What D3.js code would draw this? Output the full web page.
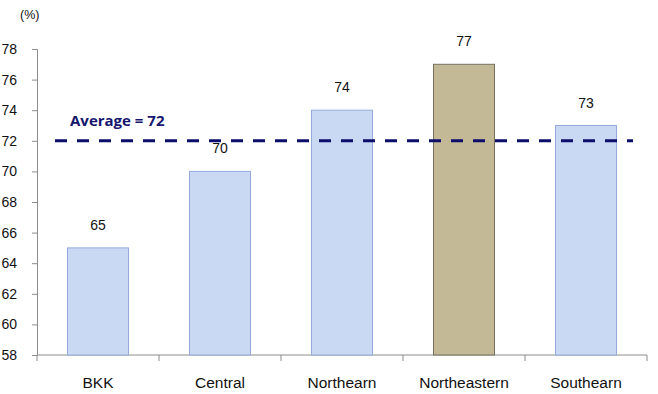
<!DOCTYPE html>
<html>
<head>
<meta charset="utf-8">
<script src="https://cdn.jsdelivr.net/npm/d3@7"></script>
<style>
  body { margin: 0; background: #fff; }
  svg { display: block; font-family: "Liberation Sans", Arial, sans-serif; }
</style>
</head>
<body>
<div id="chart"></div>
<script>
// data
var categories = ["BKK", "Central", "Northearn", "Northeastern", "Southearn"];
var values = [65, 70, 74, 77, 73];
var highlight = "Northeastern";
var average = 72;
var yTicks = [58, 60, 62, 64, 66, 68, 70, 72, 74, 76, 78];

var W = 658, H = 394;
var plotLeft = 37, plotRight = 647, plotTop = 49, plotBottom = 355;

var svg = d3.select("#chart").append("svg")
  .attr("width", W).attr("height", H);

var x = d3.scaleBand()
  .domain(categories)
  .range([plotLeft, plotRight])
  .paddingInner(0.5)
  .paddingOuter(0.25);

var y = d3.scaleLinear()
  .domain([58, 78])
  .range([plotBottom, plotTop]);

// y axis
var yAxis = svg.append("g")
  .attr("transform", "translate(" + plotLeft + ",0)")
  .call(d3.axisLeft(y).tickValues(yTicks).tickSize(5).tickPadding(15));
yAxis.select(".domain").attr("stroke", "#8c8c8c");
yAxis.selectAll(".tick line").attr("stroke", "#8c8c8c");
yAxis.selectAll(".tick text")
  .attr("font-size", "14px")
  .attr("fill", "#111")
  .attr("font-family", "Liberation Sans, Arial, sans-serif");

// x axis line + ticks at band boundaries
svg.append("line")
  .attr("x1", plotLeft).attr("x2", plotRight)
  .attr("y1", plotBottom).attr("y2", plotBottom)
  .attr("stroke", "#8c8c8c");

var step = x.step();
var bounds = d3.range(categories.length + 1).map(function(i){ return plotLeft + i * step; });
svg.selectAll(".xtick")
  .data(bounds)
  .enter().append("line")
  .attr("class", "xtick")
  .attr("x1", function(d){ return d; })
  .attr("x2", function(d){ return d; })
  .attr("y1", plotBottom).attr("y2", plotBottom + 6)
  .attr("stroke", "#8c8c8c");

svg.selectAll(".xlabel")
  .data(categories)
  .enter().append("text")
  .attr("class", "xlabel")
  .attr("x", function(d){ return x(d) + x.bandwidth() / 2; })
  .attr("y", 388)
  .attr("text-anchor", "middle")
  .attr("font-size", "15.5px")
  .attr("fill", "#111")
  .text(function(d){ return d; });

// bars
var data = categories.map(function(c, i){ return {cat: c, value: values[i]}; });

svg.selectAll(".bar")
  .data(data)
  .enter().append("rect")
  .attr("class", "bar")
  .attr("x", function(d){ return x(d.cat); })
  .attr("width", x.bandwidth())
  .attr("y", function(d){ return y(d.value); })
  .attr("height", function(d){ return plotBottom - y(d.value); })
  .attr("fill", function(d){ return d.cat == highlight ? "#c4b996" : "#c9d8f3"; })
  .attr("stroke", function(d){ return d.cat == highlight ? "#77715c" : "#93aadb"; })
  .attr("stroke-width", 1);

// value labels
svg.selectAll(".vlabel")
  .data(data)
  .enter().append("text")
  .attr("class", "vlabel")
  .attr("x", function(d){ return x(d.cat) + x.bandwidth() / 2; })
  .attr("y", function(d){ return y(d.value) - 18; })
  .attr("text-anchor", "middle")
  .attr("font-size", "14px")
  .attr("fill", "#111")
  .text(function(d){ return d.value; });

// average line
svg.append("line")
  .attr("x1", plotLeft + 18).attr("x2", plotRight - 14)
  .attr("y1", y(average)).attr("y2", y(average))
  .attr("stroke", "#0d0d6b")
  .attr("stroke-width", 3)
  .attr("stroke-dasharray", "12,10");

svg.append("text")
  .attr("x", 70)
  .attr("y", y(average) - 15)
  .attr("font-size", "15px")
  .attr("font-weight", "bold")
  .attr("fill", "#16166e")
  .attr("font-family", "Open Sans, Liberation Sans, sans-serif")
  .text("Average = " + average);

// unit label
svg.append("text")
  .attr("x", 20).attr("y", 19)
  .attr("font-size", "12.5px")
  .attr("fill", "#111")
  .text("(%)");
</script>
</body>
</html>
